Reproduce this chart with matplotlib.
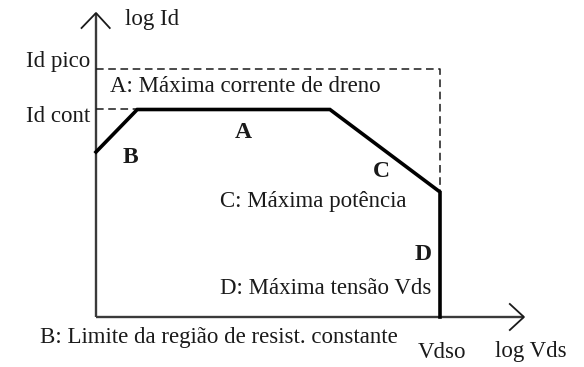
import matplotlib.pyplot as plt

# safe operating area outline (log Vds, log Id), arbitrary units
soa_vds = [0.0, 1.2, 6.8, 10.0, 10.0]
soa_id = [6.6, 8.3, 8.3, 5.0, 0.0]
id_pico = 9.92
id_cont = 8.3
vdso = 10.0
x_end = 12.44
y_end = 12.16

plt.rcParams['font.family'] = ['Liberation Serif', 'DejaVu Serif']
fs = 16.5

fig = plt.figure(figsize=(5.84, 3.67), dpi=100)
ax = fig.add_axes([0, 0, 1, 1])
ax.set_xlim(-96 / 34.4, 488 / 34.4)
ax.set_ylim(-2, 317 / 25)
ax.axis('off')

axis_kw = dict(color='#3a3a3a', lw=1.7, solid_capstyle='butt')
ax.plot([0, x_end], [0, 0], **axis_kw)
ax.plot([0, 0], [0, y_end], **axis_kw)
# open arrow heads
ax.plot([-0.42, 0.0, 0.40], [y_end - 0.6, y_end, y_end - 0.6],
        color='#1a1a1a', lw=1.3)
ax.plot([x_end - 0.41, x_end, x_end - 0.41], [0.52, 0, -0.52],
        color='#1a1a1a', lw=1.3)

# dashed limits
dash_kw = dict(color='#1a1a1a', lw=1.1, ls=(0, (5, 3)))
ax.plot([0, vdso, vdso], [id_pico, id_pico, soa_id[3]], **dash_kw)
ax.plot([0, soa_vds[1]], [id_cont, id_cont], **dash_kw)

ax.plot(soa_vds, soa_id, color='black', lw=2.6, solid_joinstyle='miter')

tc = '#1a1a1a'
bs = 17
ax.text(0.84, 11.88, 'log Id', fontsize=fs, color=tc, va='center')
ax.text(-0.17, 10.2, 'Id pico', fontsize=fs, color=tc, ha='right', va='center')
ax.text(-0.17, 8.0, 'Id cont', fontsize=fs, color=tc, ha='right', va='center')
ax.text(0.41, 9.2, 'A: Máxima corrente de dreno', fontsize=fs, color=tc, va='center')
ax.text(4.27, 7.36, 'A', fontsize=bs, weight='bold', color=tc, ha='center', va='center')
ax.text(0.99, 6.36, 'B', fontsize=bs, weight='bold', color=tc, ha='center', va='center')
ax.text(8.31, 5.8, 'C', fontsize=bs, weight='bold', color=tc, ha='center', va='center')
ax.text(3.6, 4.6, 'C: Máxima potência', fontsize=fs, color=tc, va='center')
ax.text(9.5, 2.48, 'D', fontsize=bs, weight='bold', color=tc, ha='center', va='center')
ax.text(3.6, 1.16, 'D: Máxima tensão Vds', fontsize=fs, color=tc, va='center')
ax.text(-1.63, -0.8, 'B: Limite da região de resist. constante', fontsize=fs,
        color=tc, va='center')
ax.text(vdso + 0.06, -1.4, 'Vdso', fontsize=fs, color=tc, ha='center', va='center')
ax.text(11.6, -1.4, 'log Vds', fontsize=fs, color=tc, va='center')

fig.savefig('out.png', dpi=100)
